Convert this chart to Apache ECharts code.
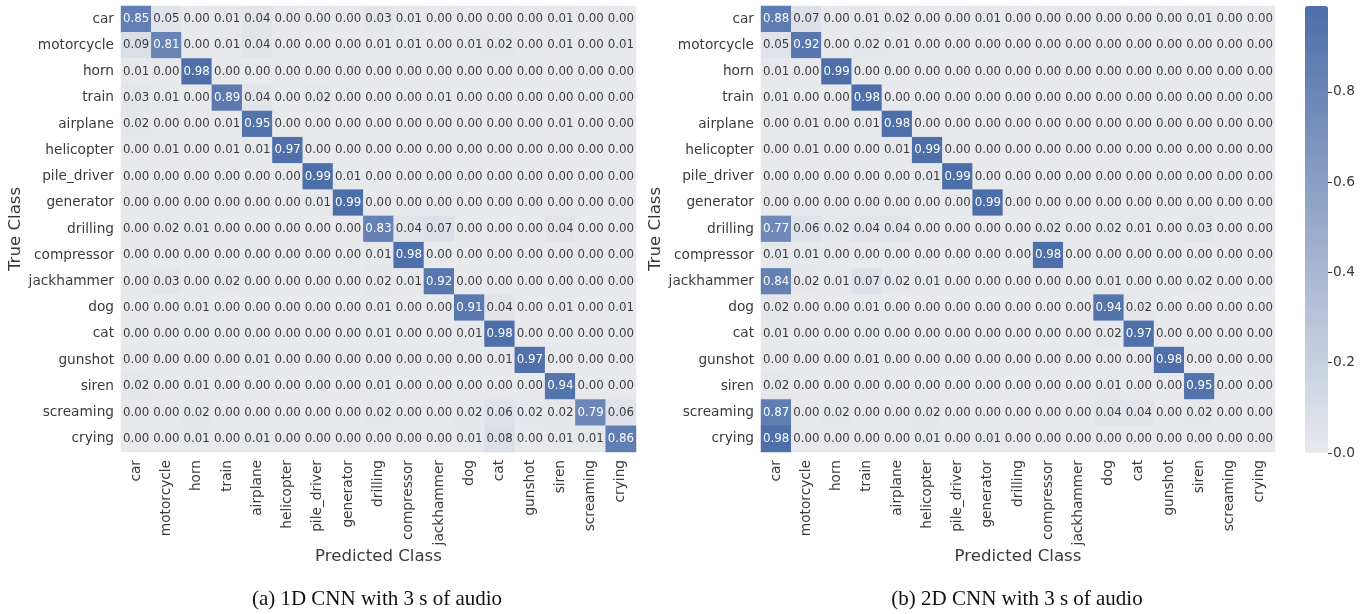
<!DOCTYPE html>
<html>
<head>
<meta charset="utf-8">
<script src="https://cdn.jsdelivr.net/npm/echarts@6/dist/echarts.min.js"></script>
<style>
  html, body { margin: 0; padding: 0; background: #ffffff; }
  #chart { width: 1372px; height: 614px; }
</style>
</head>
<body>
<div id="chart"></div>
<script>
// Class names (rows = true class, columns = predicted class)
const classes = ['car', 'motorcycle', 'horn', 'train', 'airplane', 'helicopter', 'pile_driver',
  'generator', 'drilling', 'compressor', 'jackhammer', 'dog', 'cat', 'gunshot', 'siren',
  'screaming', 'crying'];

// Normalised confusion matrix, 1D CNN, 3 s of audio
const cnn1d = [
  [0.85, 0.05, 0.00, 0.01, 0.04, 0.00, 0.00, 0.00, 0.03, 0.01, 0.00, 0.00, 0.00, 0.00, 0.01, 0.00, 0.00],
  [0.09, 0.81, 0.00, 0.01, 0.04, 0.00, 0.00, 0.00, 0.01, 0.01, 0.00, 0.01, 0.02, 0.00, 0.01, 0.00, 0.01],
  [0.01, 0.00, 0.98, 0.00, 0.00, 0.00, 0.00, 0.00, 0.00, 0.00, 0.00, 0.00, 0.00, 0.00, 0.00, 0.00, 0.00],
  [0.03, 0.01, 0.00, 0.89, 0.04, 0.00, 0.02, 0.00, 0.00, 0.00, 0.01, 0.00, 0.00, 0.00, 0.00, 0.00, 0.00],
  [0.02, 0.00, 0.00, 0.01, 0.95, 0.00, 0.00, 0.00, 0.00, 0.00, 0.00, 0.00, 0.00, 0.00, 0.01, 0.00, 0.00],
  [0.00, 0.01, 0.00, 0.01, 0.01, 0.97, 0.00, 0.00, 0.00, 0.00, 0.00, 0.00, 0.00, 0.00, 0.00, 0.00, 0.00],
  [0.00, 0.00, 0.00, 0.00, 0.00, 0.00, 0.99, 0.01, 0.00, 0.00, 0.00, 0.00, 0.00, 0.00, 0.00, 0.00, 0.00],
  [0.00, 0.00, 0.00, 0.00, 0.00, 0.00, 0.01, 0.99, 0.00, 0.00, 0.00, 0.00, 0.00, 0.00, 0.00, 0.00, 0.00],
  [0.00, 0.02, 0.01, 0.00, 0.00, 0.00, 0.00, 0.00, 0.83, 0.04, 0.07, 0.00, 0.00, 0.00, 0.04, 0.00, 0.00],
  [0.00, 0.00, 0.00, 0.00, 0.00, 0.00, 0.00, 0.00, 0.01, 0.98, 0.00, 0.00, 0.00, 0.00, 0.00, 0.00, 0.00],
  [0.00, 0.03, 0.00, 0.02, 0.00, 0.00, 0.00, 0.00, 0.02, 0.01, 0.92, 0.00, 0.00, 0.00, 0.00, 0.00, 0.00],
  [0.00, 0.00, 0.01, 0.00, 0.00, 0.00, 0.00, 0.00, 0.01, 0.00, 0.00, 0.91, 0.04, 0.00, 0.01, 0.00, 0.01],
  [0.00, 0.00, 0.00, 0.00, 0.00, 0.00, 0.00, 0.00, 0.01, 0.00, 0.00, 0.01, 0.98, 0.00, 0.00, 0.00, 0.00],
  [0.00, 0.00, 0.00, 0.00, 0.01, 0.00, 0.00, 0.00, 0.00, 0.00, 0.00, 0.00, 0.01, 0.97, 0.00, 0.00, 0.00],
  [0.02, 0.00, 0.01, 0.00, 0.00, 0.00, 0.00, 0.00, 0.01, 0.00, 0.00, 0.00, 0.00, 0.00, 0.94, 0.00, 0.00],
  [0.00, 0.00, 0.02, 0.00, 0.00, 0.00, 0.00, 0.00, 0.02, 0.00, 0.00, 0.02, 0.06, 0.02, 0.02, 0.79, 0.06],
  [0.00, 0.00, 0.01, 0.00, 0.01, 0.00, 0.00, 0.00, 0.00, 0.00, 0.00, 0.01, 0.08, 0.00, 0.01, 0.01, 0.86]
];

// Normalised confusion matrix, 2D CNN, 3 s of audio
const cnn2d = [
  [0.88, 0.07, 0.00, 0.01, 0.02, 0.00, 0.00, 0.01, 0.00, 0.00, 0.00, 0.00, 0.00, 0.00, 0.01, 0.00, 0.00],
  [0.05, 0.92, 0.00, 0.02, 0.01, 0.00, 0.00, 0.00, 0.00, 0.00, 0.00, 0.00, 0.00, 0.00, 0.00, 0.00, 0.00],
  [0.01, 0.00, 0.99, 0.00, 0.00, 0.00, 0.00, 0.00, 0.00, 0.00, 0.00, 0.00, 0.00, 0.00, 0.00, 0.00, 0.00],
  [0.01, 0.00, 0.00, 0.98, 0.00, 0.00, 0.00, 0.00, 0.00, 0.00, 0.00, 0.00, 0.00, 0.00, 0.00, 0.00, 0.00],
  [0.00, 0.01, 0.00, 0.01, 0.98, 0.00, 0.00, 0.00, 0.00, 0.00, 0.00, 0.00, 0.00, 0.00, 0.00, 0.00, 0.00],
  [0.00, 0.01, 0.00, 0.00, 0.01, 0.99, 0.00, 0.00, 0.00, 0.00, 0.00, 0.00, 0.00, 0.00, 0.00, 0.00, 0.00],
  [0.00, 0.00, 0.00, 0.00, 0.00, 0.01, 0.99, 0.00, 0.00, 0.00, 0.00, 0.00, 0.00, 0.00, 0.00, 0.00, 0.00],
  [0.00, 0.00, 0.00, 0.00, 0.00, 0.00, 0.00, 0.99, 0.00, 0.00, 0.00, 0.00, 0.00, 0.00, 0.00, 0.00, 0.00],
  [0.77, 0.06, 0.02, 0.04, 0.04, 0.00, 0.00, 0.00, 0.00, 0.02, 0.00, 0.02, 0.01, 0.00, 0.03, 0.00, 0.00],
  [0.01, 0.01, 0.00, 0.00, 0.00, 0.00, 0.00, 0.00, 0.00, 0.98, 0.00, 0.00, 0.00, 0.00, 0.00, 0.00, 0.00],
  [0.84, 0.02, 0.01, 0.07, 0.02, 0.01, 0.00, 0.00, 0.00, 0.00, 0.00, 0.01, 0.00, 0.00, 0.02, 0.00, 0.00],
  [0.02, 0.00, 0.00, 0.01, 0.00, 0.00, 0.00, 0.00, 0.00, 0.00, 0.00, 0.94, 0.02, 0.00, 0.00, 0.00, 0.00],
  [0.01, 0.00, 0.00, 0.00, 0.00, 0.00, 0.00, 0.00, 0.00, 0.00, 0.00, 0.02, 0.97, 0.00, 0.00, 0.00, 0.00],
  [0.00, 0.00, 0.00, 0.01, 0.00, 0.00, 0.00, 0.00, 0.00, 0.00, 0.00, 0.00, 0.00, 0.98, 0.00, 0.00, 0.00],
  [0.02, 0.00, 0.00, 0.00, 0.00, 0.00, 0.00, 0.00, 0.00, 0.00, 0.00, 0.01, 0.00, 0.00, 0.95, 0.00, 0.00],
  [0.87, 0.00, 0.02, 0.00, 0.00, 0.02, 0.00, 0.00, 0.00, 0.00, 0.00, 0.04, 0.04, 0.00, 0.02, 0.00, 0.00],
  [0.98, 0.00, 0.00, 0.00, 0.00, 0.01, 0.00, 0.01, 0.00, 0.00, 0.00, 0.00, 0.00, 0.00, 0.00, 0.00, 0.00]
];

// Colour bar range and ticks
const colorMin = 0.0;
const colorMax = 0.99;
const colorTicks = [0.0, 0.2, 0.4, 0.6, 0.8];

const captions = ['(a) 1D CNN with 3 s of audio', '(b) 2D CNN with 3 s of audio'];
const xTitle = 'Predicted Class';
const yTitle = 'True Class';

const FONT = 'DejaVu Sans';
const TEXT = '#3a3a3a';

function toCells(matrix) {
  const cells = [];
  matrix.forEach((row, r) => {
    row.forEach((v, c) => {
      cells.push({
        value: [c, r, v],
        label: { color: v > 0.5 ? '#ffffff' : TEXT }
      });
    });
  });
  return cells;
}

function catX(gridIndex) {
  return {
    type: 'category', gridIndex, data: classes,
    name: xTitle, nameLocation: 'middle', nameGap: 96, nameMoveOverlap: false,
    nameTextStyle: { fontFamily: FONT, fontSize: 16.6, color: TEXT },
    axisLine: { show: false }, axisTick: { show: false }, splitLine: { show: false },
    axisLabel: { rotate: 90, interval: 0, margin: 8, fontFamily: FONT, fontSize: 13.7, color: TEXT }
  };
}

function catY(gridIndex) {
  return {
    type: 'category', gridIndex, data: classes, inverse: true,
    name: yTitle, nameLocation: 'middle', nameGap: 90,
    nameTextStyle: { fontFamily: FONT, fontSize: 16.6, color: TEXT },
    axisLine: { show: false }, axisTick: { show: false }, splitLine: { show: false },
    axisLabel: { interval: 0, margin: 7, fontFamily: FONT, fontSize: 13.7, color: TEXT }
  };
}

function heat(index, matrix) {
  return {
    type: 'heatmap',
    xAxisIndex: index, yAxisIndex: index,
    data: toCells(matrix),
    label: {
      show: true, fontFamily: FONT, fontSize: 11.8,
      formatter: p => p.value[2].toFixed(2)
    },
    itemStyle: { borderWidth: 0 },
    emphasis: { disabled: true },
    silent: true
  };
}

const chart = echarts.init(document.getElementById('chart'), null, { renderer: 'canvas' });
chart.setOption({
  backgroundColor: '#ffffff',
  animation: false,
  title: [
    { text: captions[0], left: 372, top: 584, textAlign: 'center',
      textStyle: { fontFamily: 'Liberation Serif', fontSize: 21, fontWeight: 'normal', color: '#111' } },
    { text: captions[1], left: 1012, top: 584, textAlign: 'center',
      textStyle: { fontFamily: 'Liberation Serif', fontSize: 21, fontWeight: 'normal', color: '#111' } }
  ],
  grid: [
    { left: 121, top: 6, width: 515, height: 446 },
    { left: 761, top: 6, width: 514, height: 446 },
    { left: 1305, top: 6, width: 23, height: 447 }
  ],
  xAxis: [
    catX(0),
    catX(1),
    { type: 'category', gridIndex: 2, data: [''], show: false }
  ],
  yAxis: [
    catY(0),
    catY(1),
    {
      type: 'value', gridIndex: 2, min: colorMin, max: colorMax, position: 'right',
      axisLine: { show: false }, splitLine: { show: false },
      axisTick: { show: true, length: 4, customValues: colorTicks, lineStyle: { color: TEXT } },
      axisLabel: { customValues: colorTicks, margin: 5, fontFamily: FONT, fontSize: 13.8, color: TEXT,
        formatter: v => v.toFixed(1) }
    }
  ],
  visualMap: {
    type: 'continuous',
    min: colorMin, max: colorMax,
    seriesIndex: [0, 1],
    calculable: false, hoverLink: false,
    orient: 'vertical',
    left: 1305, top: 6,
    itemWidth: 23, itemHeight: 447,
    padding: 0,
    text: null,
    inRange: { color: ['#e8e9ed', '#4c6ea9'] }
  },
  series: [heat(0, cnn1d), heat(1, cnn2d)]
});
</script>
</body>
</html>
